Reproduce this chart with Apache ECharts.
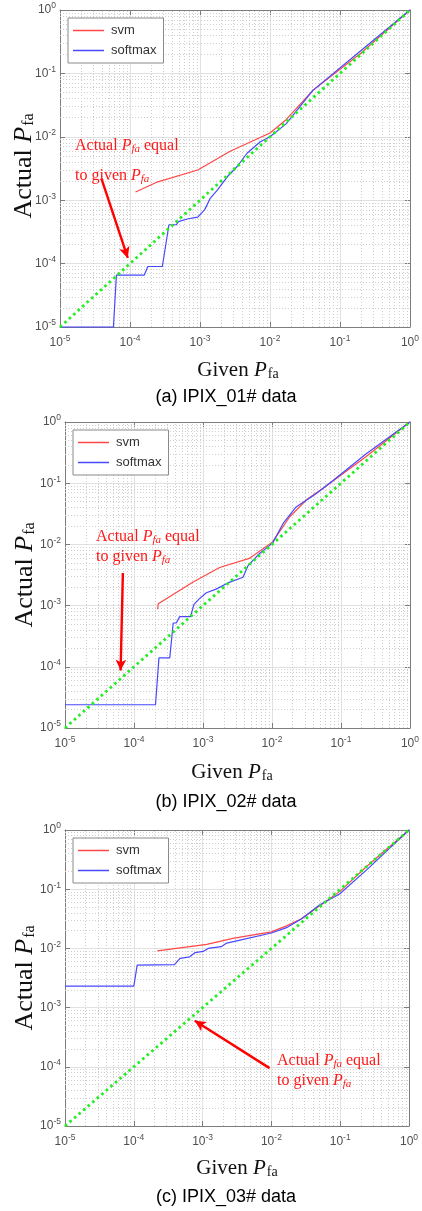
<!DOCTYPE html>
<html>
<head>
<meta charset="utf-8">
<script src="https://cdn.jsdelivr.net/npm/echarts@6/dist/echarts.min.js"></script>
<style>
  html, body { margin: 0; padding: 0; background: #ffffff; }
  #chart { width: 422px; height: 1211px; }
</style>
</head>
<body>
<div id="chart"></div>
<script>
// ---- data: [given Pfa, actual Pfa] ----
const svm01 = [[1.2e-4, 1.35e-3], [2.5e-4, 1.95e-3], [9.3e-4, 3.0e-3], [2.7e-3, 5.9e-3],
  [1.0e-2, 1.15e-2], [1.7e-2, 1.86e-2], [4.1e-2, 5.4e-2], [0.2, 0.21], [1, 1]];
const softmax01 = [[1e-5, 1e-5], [5.8e-5, 1e-5], [6.4e-5, 6.6e-5], [1.6e-4, 6.6e-5], [1.8e-4, 9e-5],
  [2.9e-4, 9e-5], [3.6e-4, 4.1e-4], [4.6e-4, 4.1e-4], [4.9e-4, 4.6e-4], [6.8e-4, 5.1e-4],
  [9.3e-4, 5.4e-4], [1.17e-3, 7.1e-4], [1.4e-3, 1.07e-3], [1.78e-3, 1.45e-3], [2.45e-3, 2.34e-3],
  [3.4e-3, 3.4e-3], [4.7e-3, 5.5e-3], [7.2e-3, 8.3e-3], [1.0e-2, 1.0e-2], [1.7e-2, 1.6e-2],
  [4.1e-2, 5.4e-2], [0.2, 0.23], [1, 1]];

const svm02 = [[2.2e-4, 8.7e-4], [2.25e-4, 1.07e-3], [7.1e-4, 2.4e-3], [1.74e-3, 4.2e-3],
  [4.7e-3, 5.9e-3], [1.02e-2, 1.1e-2], [1.8e-2, 2.8e-2], [3.2e-2, 5.4e-2], [5.5e-2, 8.3e-2],
  [0.23, 0.27], [1, 1]];
const softmax02 = [[1e-5, 2.4e-5], [2.05e-4, 2.4e-5], [2.3e-4, 1.4e-4], [3.3e-4, 1.4e-4],
  [3.7e-4, 5.2e-4], [4.1e-4, 5.2e-4], [4.6e-4, 6.6e-4], [6.6e-4, 6.6e-4], [7.4e-4, 1.05e-3],
  [8.9e-4, 1.3e-3], [1.12e-3, 1.62e-3], [1.55e-3, 1.86e-3], [2.4e-3, 2.4e-3], [3.8e-3, 2.9e-3],
  [4.5e-3, 4.5e-3], [6.6e-3, 7.1e-3], [1.02e-2, 1.05e-2], [1.45e-2, 2.2e-2], [2.24e-2, 4.1e-2],
  [4.4e-2, 6.8e-2], [7.6e-2, 0.11], [0.23, 0.3], [1, 1]];

const svm03 = [[2.2e-4, 9.1e-3], [1.15e-3, 1.17e-2], [2.75e-3, 1.48e-2], [1.0e-2, 1.9e-2],
  [1.66e-2, 2.4e-2], [2.75e-2, 3.16e-2], [9.8e-2, 9.1e-2], [0.24, 0.24], [1, 1]];
const softmax03 = [[1e-5, 2.3e-3], [1.0e-4, 2.3e-3], [1.12e-4, 5.2e-3], [3.9e-4, 5.3e-3],
  [4.7e-4, 6.8e-3], [6.5e-4, 7.2e-3], [7.8e-4, 8.5e-3], [1.02e-3, 8.9e-3], [1.2e-3, 1.0e-2],
  [1.86e-3, 1.07e-2], [2.24e-3, 1.23e-2], [3.5e-3, 1.38e-2], [1.0e-2, 1.82e-2], [1.66e-2, 2.24e-2],
  [2.75e-2, 3.16e-2], [5.0e-2, 5.4e-2], [9.8e-2, 8.3e-2], [0.24, 0.21], [1, 1]];

// reference line: actual Pfa equal to given Pfa
const equalLine = [[1e-5, 1e-5], [1, 1]];

// annotation arrows [from, to] in data units
const arrow01 = [[3.9e-5, 2.2e-3], [9.3e-5, 1.23e-4]];
const arrow02 = [[6.9e-5, 3.4e-3], [6.4e-5, 8.7e-5]];
const arrow03 = [[9.4e-3, 9.5e-5], [7.7e-4, 6.0e-4]];

const axisMin = 1e-5;
const axisMax = 1;
const captions = ['(a) IPIX_01# data', '(b) IPIX_02# data', '(c) IPIX_03# data'];

// ---- layout ----
const panels = [
  { grid: { left: 60, top: 10, width: 356, height: 317 }, svm: svm01, softmax: softmax01, arrow: arrow01,
    xName: [238, 370], caption: [226, 397], yName: [24, 166], note: [75, 146], noteLH: 30 },
  { grid: { left: 65, top: 422, width: 345, height: 306 }, svm: svm02, softmax: softmax02, arrow: arrow02,
    xName: [232, 772], caption: [226, 802], yName: [25, 575], note: [96, 537], noteLH: 20 },
  { grid: { left: 65, top: 830, width: 344, height: 296 }, svm: svm03, softmax: softmax03, arrow: arrow03,
    xName: [237, 1168], caption: [226, 1197], yName: [25, 978], note: [277, 1061], noteLH: 20 }
];

// dotted minor grid at 2..9 x each decade
const minorVals = [];
for (let d = -5; d < 0; d++) {
  for (let m = 2; m <= 9; m++) minorVals.push(+(m * Math.pow(10, d)).toPrecision(3));
}

const FRAME = '#7d7d7d';
const TICK_TXT = '#4f4f4f';

const tickRich = {
  b: { fontFamily: 'Liberation Sans', fontSize: 12, color: TICK_TXT },
  s: { fontFamily: 'Liberation Sans', fontSize: 8.5, color: TICK_TXT, padding: [0, 0, 8, 0] }
};
function powLabel(v) {
  const e = Math.round(Math.log10(v));
  return '{b|10}{s|' + e + '}';
}

function logAxis(gi, pos, isX) {
  const main = pos === 'bottom' || pos === 'left';
  return {
    type: 'log', logBase: 10, gridIndex: gi, position: pos,
    min: axisMin, max: axisMax, splitNumber: 5,
    axisLine: { show: true, onZero: false, lineStyle: { color: FRAME, width: 1 } },
    axisTick: { show: true, inside: true, length: 5, lineStyle: { color: FRAME } },
    axisLabel: main ? { show: true, formatter: powLabel, rich: tickRich, margin: isX ? 7 : 4,
      showMinLabel: true, showMaxLabel: true, hideOverlap: false } : { show: false },
    splitLine: { show: main, lineStyle: { color: '#e1e1e1', width: 1 } }
  };
}

const grids = [], xAxes = [], yAxes = [], series = [], legends = [], graphics = [];

panels.forEach((p, i) => {
  grids.push(Object.assign({ show: true, backgroundColor: '#ffffff', borderWidth: 0 }, p.grid));
  xAxes.push(logAxis(i, 'bottom', true));
  yAxes.push(logAxis(i, 'left', false));
});
// box edges on top and right
panels.forEach((p, i) => {
  xAxes.push(logAxis(i, 'top', true));
  yAxes.push(logAxis(i, 'right', false));
});

panels.forEach((p, i) => {
  // minor grid segments, vertical then horizontal
  series.push({
    type: 'lines', coordinateSystem: 'cartesian2d', xAxisIndex: i, yAxisIndex: i,
    silent: true, z: 1, animation: false,
    lineStyle: { color: '#cfcfcf', type: [1, 2], width: 1, opacity: 1 },
    data: minorVals.map(v => ({ coords: [[v, axisMin], [v, axisMax]] }))
      .concat(minorVals.map(v => ({ coords: [[axisMin, v], [axisMax, v]] })))
  });
  series.push({
    name: 'svm', type: 'line', xAxisIndex: i, yAxisIndex: i, data: p.svm,
    symbol: 'none', clip: false, color: '#ff4747',
    lineStyle: { color: '#ff4747', width: 1.2 }, z: 3
  });
  series.push({
    name: 'softmax', type: 'line', xAxisIndex: i, yAxisIndex: i, data: p.softmax,
    symbol: 'none', clip: false, color: '#4848ff',
    lineStyle: { color: '#4848ff', width: 1.2 }, z: 3
  });
  series.push({
    type: 'line', xAxisIndex: i, yAxisIndex: i, data: equalLine,
    symbol: 'none', clip: false, z: 4,
    lineStyle: { color: '#22ee22', width: 2.8, type: [2.6, 3.4], cap: 'butt' },
    markLine: {
      z: 6, silent: true, symbol: ['none', 'arrow'], symbolSize: [8, 11], animation: false,
      label: { show: false },
      lineStyle: { color: '#ff0000', width: 2.4, type: 'solid' },
      emphasis: { disabled: true },
      data: [[{ coord: p.arrow[0] }, { coord: p.arrow[1] }]]
    }
  });

  legends.push({
    data: ['svm', 'softmax'], orient: 'vertical',
    left: p.grid.left + 8, top: p.grid.top + 8,
    icon: 'rect', itemWidth: 31, itemHeight: 1.5, itemGap: 7,
    padding: [6, 7, 6, 5], borderColor: '#8a8a8a', borderWidth: 1, backgroundColor: '#ffffff',
    selectedMode: false,
    textStyle: { fontFamily: 'Liberation Sans', fontSize: 13, color: '#333333', padding: [0, 0, 0, 2] }
  });

  // axis titles
  graphics.push({
    type: 'text', x: p.xName[0], y: p.xName[1], silent: true,
    style: {
      text: '{n|Given }{i|P}{s|fa}', align: 'center', verticalAlign: 'middle',
      rich: {
        n: { fontFamily: 'Liberation Serif', fontSize: 21, fill: '#111111', lineHeight: 26 },
        i: { fontFamily: 'Liberation Serif', fontSize: 21, fontStyle: 'italic', fill: '#111111', lineHeight: 26 },
        s: { fontFamily: 'Liberation Serif', fontSize: 14, fill: '#111111', padding: [9, 0, 0, 1] }
      }
    }
  });
  graphics.push({
    type: 'text', x: p.yName[0], y: p.yName[1], rotation: Math.PI / 2, silent: true,
    style: {
      text: '{n|Actual }{i|P}{s|fa}', align: 'center', verticalAlign: 'middle',
      rich: {
        n: { fontFamily: 'Liberation Serif', fontSize: 26, fill: '#111111', lineHeight: 30 },
        i: { fontFamily: 'Liberation Serif', fontSize: 26, fontStyle: 'italic', fill: '#111111', lineHeight: 30 },
        s: { fontFamily: 'Liberation Serif', fontSize: 16, fill: '#111111', padding: [10, 0, 0, 1] }
      }
    }
  });
  graphics.push({
    type: 'text', x: p.caption[0], y: p.caption[1], silent: true,
    style: {
      text: captions[i], align: 'center', verticalAlign: 'middle',
      fontFamily: 'Liberation Sans', fontSize: 18, fill: '#000000'
    }
  });
  // annotation for the equality line
  const lh = p.noteLH;
  graphics.push({
    type: 'text', x: p.note[0], y: p.note[1] - lh / 2, silent: true, z: 100,
    style: {
      text: '{n|Actual }{i|P}{s|fa}{n| equal}\n{n|to given }{i|P}{s|fa}',
      align: 'left', verticalAlign: 'top',
      rich: {
        n: { fontFamily: 'Liberation Serif', fontSize: 16, fill: '#ff1a1a', lineHeight: lh },
        i: { fontFamily: 'Liberation Serif', fontSize: 16, fontStyle: 'italic', fill: '#ff1a1a', lineHeight: lh },
        s: { fontFamily: 'Liberation Serif', fontSize: 11, fontStyle: 'italic', fill: '#ff1a1a', padding: [6, 0, 0, 0] }
      }
    }
  });
});

const chart = echarts.init(document.getElementById('chart'), null, { renderer: 'canvas' });
chart.setOption({
  animation: false,
  backgroundColor: '#ffffff',
  grid: grids,
  xAxis: xAxes,
  yAxis: yAxes,
  legend: legends,
  series: series,
  graphic: graphics
});
</script>
</body>
</html>
